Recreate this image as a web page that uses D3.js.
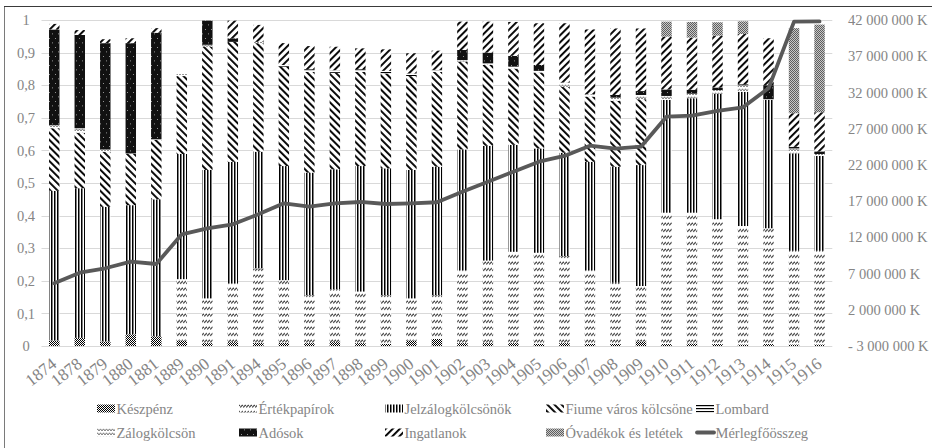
<!DOCTYPE html>
<html><head><meta charset="utf-8">
<script src="https://cdn.jsdelivr.net/npm/d3@7"></script>
<style>
body{margin:0;background:#fff;}
svg text{font-family:"Liberation Serif","Times New Roman",serif;}
</style></head><body>
<svg id="chart" width="932" height="448"></svg>
<script>
const years = ["1874","1878","1879","1880","1881","1889","1890","1891","1894","1895","1896","1897","1898","1899","1900","1901","1902","1903","1904","1905","1906","1907","1908","1909","1910","1911","1912","1913","1914","1915","1916"];
const keszpenz = [0.017,0.025,0.014,0.036,0.03,0.017,0.009,0.012,0.01,0.01,0.009,0.012,0.009,0.007,0.017,0.022,0.009,0.009,0.009,0.007,0.009,0.007,0.007,0.014,0.006,0.008,0.006,0.005,0.006,0.005,0.005];
const ertekpapirok = [0,0,0,0,0,0.188,0.137,0.18,0.228,0.192,0.147,0.162,0.158,0.149,0.129,0.134,0.224,0.253,0.28,0.279,0.267,0.226,0.187,0.17,0.403,0.401,0.383,0.363,0.355,0.287,0.287];
const jelzalog = [0.459,0.459,0.413,0.396,0.42,0.384,0.394,0.373,0.358,0.35,0.376,0.368,0.385,0.389,0.394,0.394,0.37,0.352,0.328,0.32,0.317,0.332,0.356,0.371,0.346,0.351,0.384,0.412,0.394,0.299,0.291];
const fiume = [0.192,0.17,0.169,0.157,0.182,0.239,0.378,0.368,0.333,0.305,0.309,0.296,0.289,0.291,0.288,0.291,0.269,0.248,0.234,0.233,0.202,0.2,0.202,0.202,0,0,0,0,0,0,0];
const lombard = [0,0,0,0,0,0,0,0,0,0.005,0.008,0.008,0.008,0.008,0.008,0.006,0,0,0,0,0,0,0,0,0,0,0,0,0,0,0];
const zalog = [0.01,0.014,0.007,0.002,0.002,0.006,0.006,0,0.004,0,0,0,0,0,0,0,0.005,0.005,0.006,0.005,0.013,0.007,0.01,0.013,0.012,0.014,0.012,0.02,0.002,0.015,0.006];
const adosok = [0.293,0.286,0.326,0.338,0.327,0,0.074,0.011,0,0,0,0,0,0,0,0,0.031,0.033,0.033,0.018,0,0,0.008,0.012,0.02,0.012,0.008,0.003,0.043,0.005,0.008];
const ingatlanok = [0.017,0.015,0.012,0.015,0.014,0,0,0.054,0.052,0.067,0.071,0.072,0.064,0.066,0.062,0.059,0.087,0.095,0.104,0.128,0.182,0.199,0.204,0.192,0.162,0.16,0.159,0.154,0.144,0.103,0.12];
const ovadekok = [0,0,0,0,0,0,0,0,0,0,0,0,0,0,0,0,0,0,0,0,0,0,0,0,0.046,0.048,0.041,0.039,0,0.261,0.269];
const merlegfoosszeg = [5650000,7120000,7730000,8640000,8320000,12420000,13250000,13800000,15180000,16700000,16230000,16700000,16880000,16600000,16700000,16840000,18300000,19680000,21060000,22440000,23230000,24650000,24240000,24510000,28650000,28790000,29440000,29950000,32570000,41770000,41800000];

const leftTickValues = [0,0.1,0.2,0.3,0.4,0.5,0.6,0.7,0.8,0.9,1];
const leftTickLabels = ["0","0,1","0,2","0,3","0,4","0,5","0,6","0,7","0,8","0,9","1"];
const rightTickValues = [-3000000,2000000,7000000,12000000,17000000,22000000,27000000,32000000,37000000,42000000];
const rightTickLabels = ["- 3 000 000 K","2 000 000 K","7 000 000 K","12 000 000 K","17 000 000 K","22 000 000 K","27 000 000 K","32 000 000 K","37 000 000 K","42 000 000 K"];
const seriesNames = ["Készpénz","Értékpapírok","Jelzálogkölcsönök","Fiume város kölcsöne","Lombard","Zálogkölcsön","Adósok","Ingatlanok","Óvadékok és letétek"];
const lineName = "Mérlegfőösszeg";

const seriesData = [keszpenz,ertekpapirok,jelzalog,fiume,lombard,zalog,adosok,ingatlanok,ovadekok];
const patIds = ["p-cash","p-ert","p-jelz","p-fiume","p-lomb","p-zalog","p-ados","p-ingat","p-ovad"];
const FONT = "'Liberation Serif','Times New Roman',serif";
const GREY = "#858585";

const svg = d3.select("#chart");
const defs = svg.append("defs");
function pat(id,w,h,transform){
  const p = defs.append("pattern").attr("id",id).attr("patternUnits","userSpaceOnUse").attr("width",w).attr("height",h);
  if(transform) p.attr("patternTransform",transform);
  p.append("rect").attr("width",w).attr("height",h).attr("fill","#fff");
  return p;
}
let p = pat("p-cash",2,2);
p.append("rect").attr("x",0).attr("y",0).attr("width",1).attr("height",1).attr("fill","#000");
p.append("rect").attr("x",1).attr("y",1).attr("width",1).attr("height",1).attr("fill","#000");
p = pat("p-ert",3,6.5);
p.append("line").attr("x1",0.2).attr("y1",4.3).attr("x2",2.8).attr("y2",1.7).attr("stroke","#222").attr("stroke-width",1.1);
p = pat("p-jelz",3,3);
p.append("rect").attr("x",0).attr("y",0).attr("width",1.5).attr("height",3).attr("fill","#000");
p = pat("p-fiume",5,5,"rotate(-45)");
p.append("rect").attr("x",0).attr("y",0).attr("width",1.9).attr("height",5).attr("fill","#000");
p = pat("p-lomb",3,3);
p.append("rect").attr("x",0).attr("y",0).attr("width",3).attr("height",1.2).attr("fill","#000");
p = pat("p-zalog",3,4);
p.append("polyline").attr("points","0,3 1.5,0.8 3,3").attr("fill","none").attr("stroke","#555").attr("stroke-width",0.8);
p = pat("p-ados",6,9);
p.select("rect").attr("fill","#111");
p.append("rect").attr("x",1).attr("y",2).attr("width",0.8).attr("height",0.8).attr("fill","#ddd");
p.append("rect").attr("x",4).attr("y",6.5).attr("width",0.8).attr("height",0.8).attr("fill","#ddd");
p = pat("p-ingat",5,5,"rotate(45)");
p.append("rect").attr("x",0).attr("y",0).attr("width",1.9).attr("height",5).attr("fill","#000");
p = pat("p-ovad",2,2);
p.select("rect").attr("fill","#c8c8c8");
p.append("rect").attr("x",0).attr("y",0).attr("width",1).attr("height",1).attr("fill","#5e5e5e");
p.append("rect").attr("x",1).attr("y",1).attr("width",1).attr("height",1).attr("fill","#5e5e5e");

// frame
svg.append("line").attr("x1",4.5).attr("x2",4.5).attr("y1",6).attr("y2",448).attr("stroke","#7a7a7a");
svg.append("line").attr("x1",4).attr("x2",932).attr("y1",6.5).attr("y2",6.5).attr("stroke","#3a3a3a");

const plotL = 41.5, plotR = 832.3, plotT = 20, plotB = 346;
const x = d3.scaleBand().domain(years).range([plotL,plotR]).paddingInner(0.59).paddingOuter(0.295);
const y = d3.scaleLinear().domain([0,1]).range([plotB,plotT]);
const y2 = d3.scaleLinear().domain([-3000000,42000000]).range([plotB,plotT]);

svg.append("g").selectAll("line").data(leftTickValues).join("line")
  .attr("x1",plotL).attr("x2",plotR).attr("y1",d=>Math.round(y(d))+0.5).attr("y2",d=>Math.round(y(d))+0.5)
  .attr("stroke","#d9d9d9").attr("stroke-width",1);

const axL = d3.axisLeft(y).tickValues(leftTickValues).tickFormat((d,i)=>leftTickLabels[i]).tickSize(0);
const gL = svg.append("g").attr("transform","translate(26,0)").call(axL).attr("font-family",null).attr("font-size",null);
gL.select(".domain").remove();
gL.selectAll("text").attr("x",0).attr("text-anchor","middle").attr("fill",GREY).style("font-size","14.5px").style("font-family",FONT);

const axR = d3.axisRight(y2).tickValues(rightTickValues).tickFormat((d,i)=>rightTickLabels[i]).tickSize(0);
const gR = svg.append("g").attr("transform","translate(848,0)").call(axR).attr("font-family",null).attr("font-size",null);
gR.select(".domain").remove();
gR.selectAll("text").attr("x",0).attr("fill",GREY).style("font-size","14.5px").style("font-family",FONT);

const axB = d3.axisBottom(x).tickSize(0);
const gB = svg.append("g").attr("transform",`translate(0,${plotB})`).call(axB).attr("font-family",null).attr("font-size",null);
gB.select(".domain").remove();
gB.selectAll("text").attr("y",0).attr("dy",0).attr("text-anchor","end")
  .attr("transform","translate(3.5,20) rotate(-38)")
  .attr("fill",GREY).style("font-size","17px").style("font-family",FONT);

const table = years.map((yr,i)=>{const o={year:yr}; seriesNames.forEach((n,k)=>o[n]=seriesData[k][i]); return o;});
const stack = d3.stack().keys(seriesNames)(table);
svg.append("g").selectAll("g").data(stack).join("g")
  .attr("fill",(d,k)=>`url(#${patIds[k]})`)
  .selectAll("rect").data(d=>d).join("rect")
  .attr("x",d=>x(d.data.year)).attr("width",x.bandwidth())
  .attr("y",d=>y(d[1])).attr("height",d=>Math.max(0,y(d[0])-y(d[1])));

const line = d3.line().x((d,i)=>x(years[i])+x.bandwidth()/2).y(d=>y2(d));
svg.append("path").datum(merlegfoosszeg).attr("d",line).attr("fill","none")
  .attr("stroke","#595959").attr("stroke-width",3.8).attr("stroke-linejoin","round").attr("stroke-linecap","round");

const legX = [97,239,385,546,696];
const legY = [409,433];
const legendItems = seriesNames.map((n,k)=>({name:n,pat:patIds[k]})).concat([{name:lineName,line:true}]);
const lg = svg.append("g");
legendItems.forEach((it,i)=>{
  const col = i%5, row = Math.floor(i/5);
  const gx = legX[col], gy = legY[row];
  if(it.line){
    lg.append("line").attr("x1",gx+1).attr("x2",gx+18).attr("y1",gy-0.5).attr("y2",gy-0.5).attr("stroke","#595959").attr("stroke-width",3.8).attr("stroke-linecap","round");
  } else {
    lg.append("rect").attr("x",gx).attr("y",gy-4.5).attr("width",18).attr("height",8).attr("fill",`url(#${it.pat})`);
  }
  lg.append("text").attr("x",gx+19.5).attr("y",gy).attr("dy","0.35em").attr("fill",GREY)
    .style("font-size","14.5px").style("font-family",FONT).text(it.name);
});
</script>
</body></html>
